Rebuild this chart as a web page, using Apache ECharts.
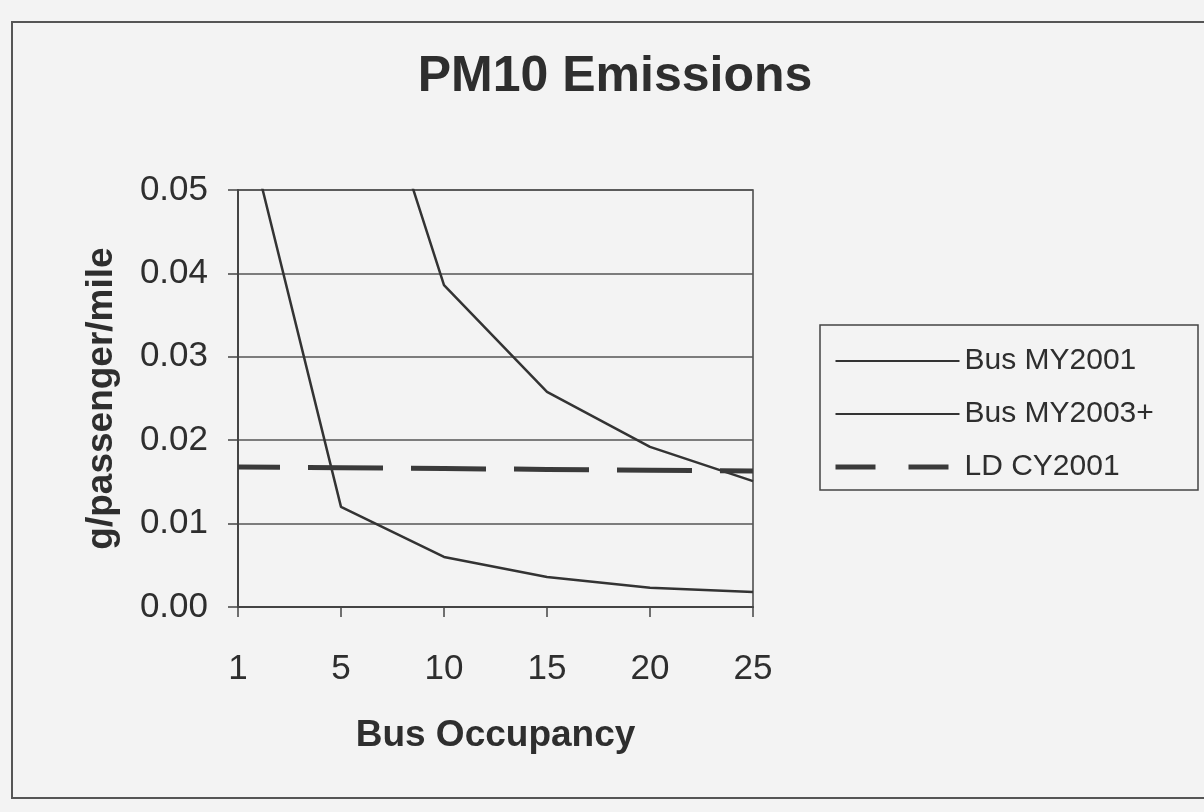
<!DOCTYPE html>
<html>
<head>
<meta charset="utf-8">
<title>PM10 Emissions</title>
<script src="https://cdn.jsdelivr.net/npm/echarts@6/dist/echarts.min.js"></script>
<style>
  html, body { margin: 0; padding: 0; background: #f3f3f3; }
  #chart { width: 1204px; height: 812px; }
</style>
</head>
<body>
<div id="chart"></div>
<script>
// bus occupancy (passengers)
const occupancy = ['1', '5', '10', '15', '20', '25']
// g/passenger/mile (values above 0.05 are clipped)
const busMY2001 = [0.062, 0.012, 0.006, 0.0036, 0.0023, 0.0018]
const busMY2003 = [0.38, 0.077, 0.0386, 0.0258, 0.0192, 0.0151]
const ldCY2001 = [0.0168, 0.0167, 0.0166, 0.0165, 0.0164, 0.0163]
const yTicks = { min: 0, max: 0.05, interval: 0.01 }

const font = 'Liberation Sans, Arial, sans-serif'
const ink = '#2e2e2e'

const chart = echarts.init(document.getElementById('chart'))

chart.setOption({
    backgroundColor: '#f3f3f3',
    animation: false,
    title: {
        text: 'PM10 Emissions',
        left: 610,
        top: 47,
        textAlign: 'center',
        textStyle: { fontFamily: font, fontSize: 50, fontWeight: 'bold', color: ink }
    },
    graphic: [
        // outer frame of the scanned chart
        { type: 'rect', shape: { x: 12, y: 22, width: 1300, height: 776 },
          style: { fill: 'none', stroke: '#555', lineWidth: 2 } },
        // legend box
        { type: 'rect', shape: { x: 820, y: 325, width: 378, height: 165 },
          style: { fill: 'none', stroke: '#444', lineWidth: 1.5 } }
    ],
    legend: {
        orient: 'vertical',
        left: 828,
        top: 341,
        itemWidth: 124,
        itemHeight: 14,
        itemGap: 23,
        itemStyle: { opacity: 0 },
        textStyle: { fontFamily: font, fontSize: 30, color: ink },
        data: [
            { name: 'Bus MY2001', lineStyle: { width: 2 } },
            { name: 'Bus MY2003+', lineStyle: { width: 2 } },
            { name: 'LD CY2001', lineStyle: { color: '#3a3a3a', width: 5, type: [40, 33], dashOffset: 0 } }
        ]
    },
    grid: {
        left: 238,
        right: 451,
        top: 190,
        bottom: 205,
        show: true,
        borderColor: '#444',
        borderWidth: 1.5,
        outerBoundsMode: 'none'
    },
    xAxis: {
        type: 'category',
        data: occupancy,
        boundaryGap: false,
        name: 'Bus Occupancy',
        nameLocation: 'middle',
        nameGap: 110,
        nameTextStyle: { fontFamily: font, fontSize: 37, fontWeight: 'bold', color: ink },
        axisLine: { lineStyle: { color: '#444', width: 2 } },
        axisTick: { show: true, length: 10, lineStyle: { color: '#444', width: 1.5 } },
        axisLabel: { margin: 45, fontFamily: font, fontSize: 35, color: ink },
        splitLine: { show: false }
    },
    yAxis: {
        type: 'value',
        min: yTicks.min,
        max: yTicks.max,
        interval: yTicks.interval,
        name: 'g/passenger/mile',
        nameLocation: 'middle',
        nameRotate: 90,
        nameGap: 118,
        nameTextStyle: { fontFamily: font, fontSize: 37, fontWeight: 'bold', color: ink },
        axisLine: { show: true, lineStyle: { color: '#444', width: 2 } },
        axisTick: { show: true, length: 10, lineStyle: { color: '#444', width: 1.5 } },
        axisLabel: {
            margin: 30,
            fontFamily: font,
            fontSize: 35,
            color: ink,
            formatter: v => v.toFixed(2)
        },
        splitLine: { show: true, lineStyle: { color: '#555', width: 1.5 } }
    },
    series: [
        {
            name: 'Bus MY2001',
            type: 'line',
            data: busMY2001,
            symbol: 'none',
            clip: true,
            lineStyle: { color: '#333', width: 2.5 },
            itemStyle: { color: '#333' }
        },
        {
            name: 'Bus MY2003+',
            type: 'line',
            data: busMY2003,
            symbol: 'none',
            clip: true,
            lineStyle: { color: '#333', width: 2.5 },
            itemStyle: { color: '#333' }
        },
        {
            name: 'LD CY2001',
            type: 'line',
            data: ldCY2001,
            symbol: 'none',
            clip: true,
            lineStyle: { color: '#3a3a3a', width: 5, type: [75, 28], dashOffset: 33 },
            itemStyle: { color: '#3a3a3a' }
        }
    ]
})

window.addEventListener('resize', () => chart.resize())
</script>
</body>
</html>
